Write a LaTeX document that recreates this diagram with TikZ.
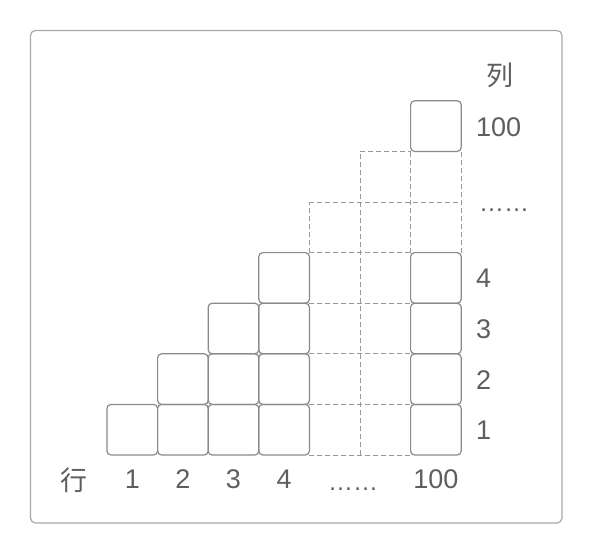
\documentclass[tikz,border=0pt]{standalone}
\usepackage{fontspec}
\setmainfont{Liberation Sans}
\newfontfamily\cjk{Noto Sans CJK SC}
\definecolor{linegray}{HTML}{8A8A8A}
\definecolor{dashgray}{HTML}{9A9A9A}
\definecolor{textgray}{HTML}{5E5E5E}
\definecolor{framegray}{HTML}{A8A8A8}
\begin{document}
\begin{tikzpicture}[x=1pt,y=-1pt,
  cellbox/.style={draw=linegray, line width=1.2pt, rounded corners=4pt,
    minimum width=50.6pt, minimum height=50.6pt, inner sep=0pt, outer sep=0pt},
  dashline/.style={draw=dashgray, line width=1pt, dash pattern=on 5pt off 3pt},
  lbl/.style={text=textgray, font=\fontsize{27}{27}\selectfont, inner sep=0pt},
  cjklbl/.style={text=textgray, font=\cjk\fontsize{27}{27}\selectfont, inner sep=0pt}]
\useasboundingbox (0,0) rectangle (593,555);
\draw[framegray, line width=1.2pt, rounded corners=5pt] (30.5,30.5) rectangle (562,523);
% grid points: g-row boundary-column boundary
\foreach \k in {0,...,7}
  \foreach \m in {0,...,7}
    \coordinate (g-\k-\m) at ({107+50.6*\m},{455-50.6*\k});
% dashed grid lines
\foreach \k in {0,1,2,3,4}
  \draw[dashline] (g-\k-4) -- (g-\k-6);
\draw[dashline] (g-5-4) -- (g-5-7);
\draw[dashline] (g-6-5) -- (g-6-6);
\draw[dashline] (g-4-4) -- (g-5-4);
\draw[dashline] (g-0-5) -- (g-6-5);
\draw[dashline] (g-4-6) -- (g-6-6);
\draw[dashline] (g-4-7) -- (g-6-7);
% solid cells
\foreach \i/\j in {1/1,1/2,1/3,1/4,1/7,2/2,2/3,2/4,2/7,3/3,3/4,3/7,4/4,4/7,7/7}
  \node[cellbox] (c\i-\j) at ({107+50.6*(\j-0.5)},{455-50.6*(\i-0.5)}) {};
% column labels (right)
\node[cjklbl] (lie) at (500,75) {列};
\node[lbl, anchor=base west] (r100) at (476,{455-50.6*6.5+10}) {100};
\node[lbl, anchor=base west, font=\fontsize{25}{25}\selectfont] (rdots) at (479,211) {……};
\node[lbl, anchor=base west] (r4) at (476,{455-50.6*3.5+10}) {4};
\node[lbl, anchor=base west] (r3) at (476,{455-50.6*2.5+10}) {3};
\node[lbl, anchor=base west] (r2) at (476,{455-50.6*1.5+10}) {2};
\node[lbl, anchor=base west] (r1) at (476,{455-50.6*0.5+10}) {1};
% row labels (bottom)
\node[cjklbl] (hang) at (74,480) {行};
\node[lbl, anchor=base] (b1) at ({107+50.6*0.5},488) {1};
\node[lbl, anchor=base] (b2) at ({107+50.6*1.5},488) {2};
\node[lbl, anchor=base] (b3) at ({107+50.6*2.5},488) {3};
\node[lbl, anchor=base] (b4) at ({107+50.6*3.5},488) {4};
\node[lbl, anchor=base west, font=\fontsize{25}{25}\selectfont] (bdots) at (328,490) {……};
\node[lbl, anchor=base] (b100) at ({107+50.6*6.5},488) {100};
\end{tikzpicture}
\end{document}
